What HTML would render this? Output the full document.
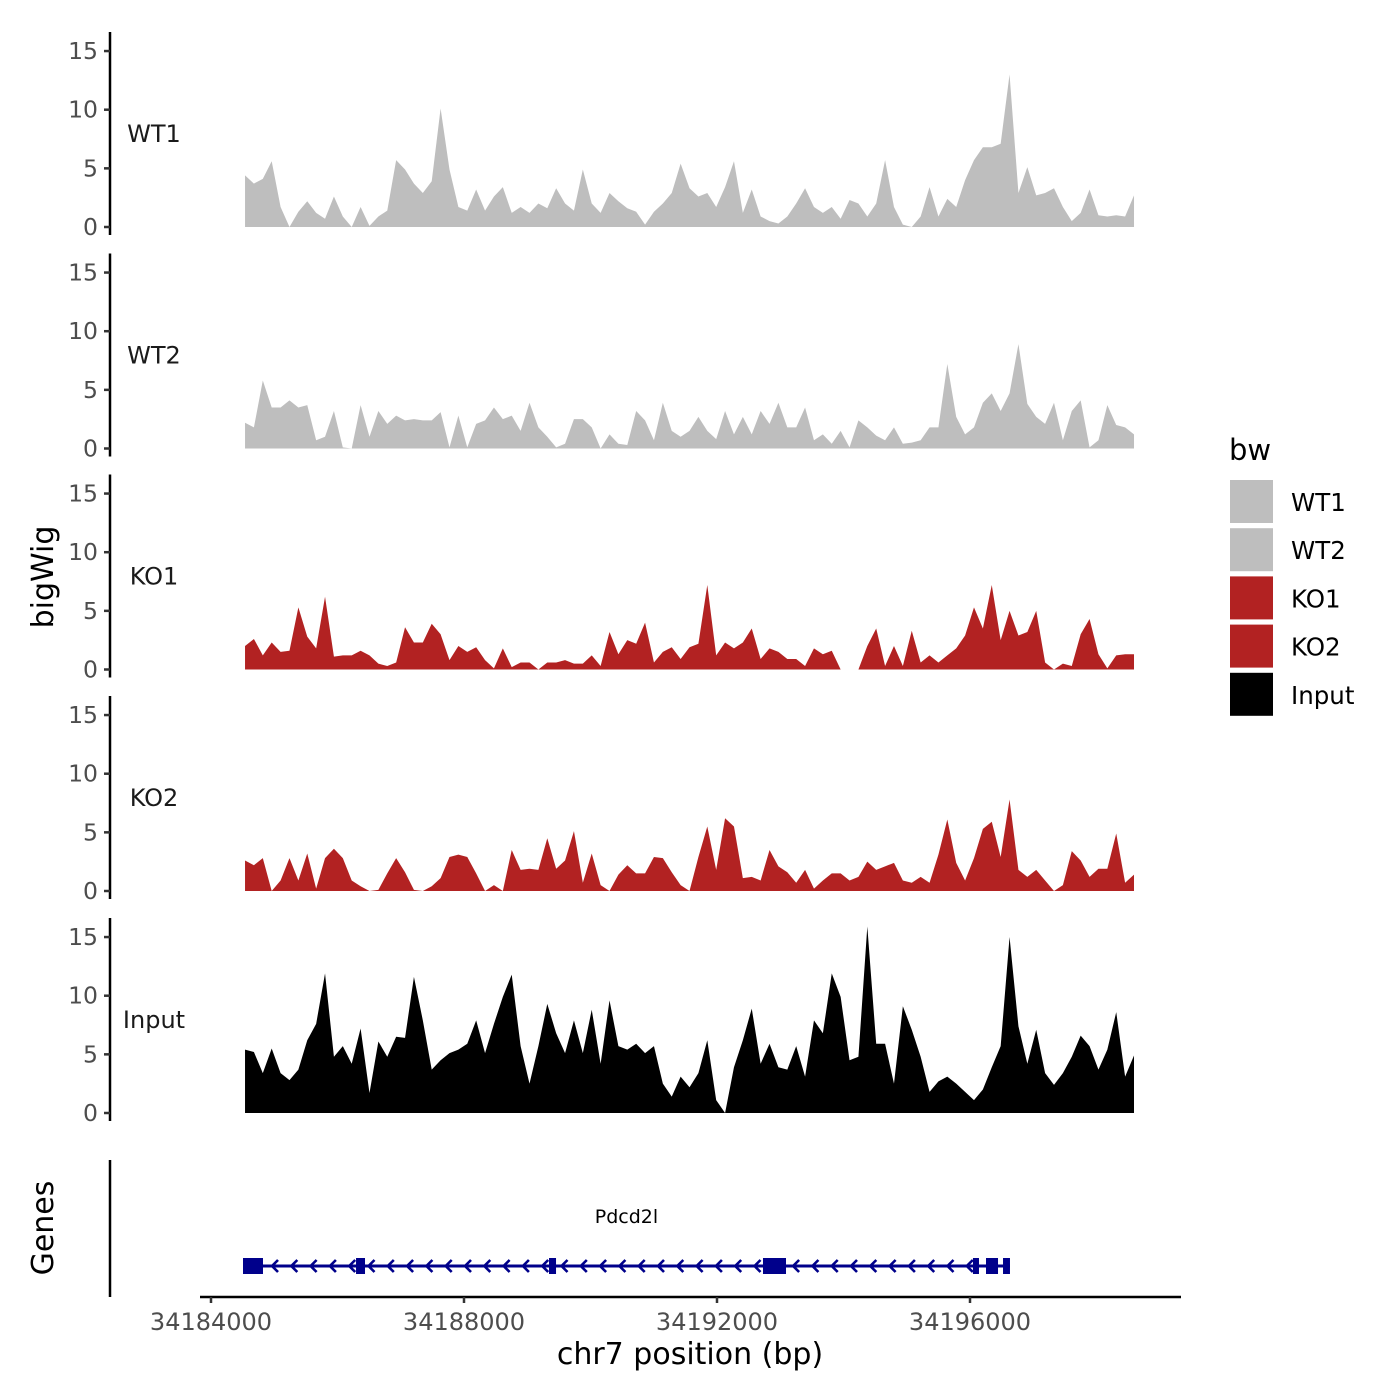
<!DOCTYPE html>
<html><head><meta charset="utf-8"><style>
body{margin:0;background:#fff}
svg{display:block;font-family:"DejaVu Sans","Liberation Sans",sans-serif}
</style></head><body>
<svg id="chart" width="1400" height="1400" viewBox="0 0 1400 1400">
<rect width="1400" height="1400" fill="#fff"/>
<g id="tracks"></g>
<g id="genes"></g>
<g id="xaxis"></g>
<text x="53" y="577" transform="rotate(-90 53 577)" text-anchor="middle" font-size="30" fill="#000">bigWig</text>
<text x="53" y="1228" transform="rotate(-90 53 1228)" text-anchor="middle" font-size="30" fill="#000">Genes</text>
<text x="690" y="1364" text-anchor="middle" font-size="30" fill="#000">chr7 position (bp)</text>
<g id="legend">
<text x="1229" y="460" font-size="29" fill="#000">bw</text>
</g>
</svg>
<script>
const trackNames = ["WT1","WT2","KO1","KO2","Input"];
const trackColors = ["#bebebe","#bebebe","#b22222","#b22222","#000000"];
const regionStart = 34184538;
const regionEnd = 34198593;
const wt1Values = [4.4,3.7,4.1,5.6,1.7,0,1.3,2.2,1.2,0.7,2.6,0.9,0,1.7,0.1,0.9,1.4,5.7,4.9,3.7,2.9,3.9,10.1,4.9,1.7,1.4,3.2,1.4,2.6,3.4,1.2,1.7,1.2,2.0,1.6,3.3,2.0,1.4,4.9,2.0,1.2,2.9,2.2,1.6,1.3,0.2,1.3,2.0,2.9,5.4,3.3,2.6,2.9,1.7,3.4,5.6,1.2,3.2,0.9,0.5,0.3,0.9,2.0,3.3,1.7,1.2,1.7,0.7,2.3,2.0,0.9,2.0,5.7,1.7,0.2,0,0.9,3.4,0.9,2.4,1.7,4.0,5.7,6.8,6.8,7.1,13.0,2.9,5.1,2.7,2.9,3.3,1.7,0.5,1.2,3.2,1.0,0.9,1.0,0.9,2.7];
const wt2Values = [2.2,1.8,5.8,3.5,3.5,4.1,3.5,3.7,0.7,1.0,3.2,0.1,0,3.7,1.0,3.2,2.1,2.8,2.4,2.5,2.4,2.4,3.1,0.1,2.8,0.1,2.1,2.4,3.5,2.5,2.8,1.5,3.9,1.8,1.0,0.1,0.4,2.5,2.5,1.8,0,1.2,0.4,0.3,3.2,2.4,0.7,3.9,1.5,1.0,1.5,2.7,1.5,0.8,3.2,1.2,2.7,1.2,3.2,2.1,3.9,1.8,1.8,3.5,0.7,1.2,0.4,1.5,0.1,2.4,1.8,1.1,0.7,1.8,0.4,0.5,0.7,1.8,1.8,7.2,2.7,1.2,1.8,3.9,4.7,3.2,4.7,8.9,3.8,2.7,2.1,3.9,0.7,3.2,4.1,0.1,0.7,3.7,2.0,1.8,1.2];
const ko1Values = [2.0,2.6,1.2,2.3,1.5,1.6,5.3,2.8,1.8,6.2,1.1,1.2,1.2,1.6,1.2,0.5,0.3,0.6,3.6,2.3,2.3,3.9,3.0,0.8,2.0,1.5,1.9,0.8,0.1,1.8,0.2,0.6,0.6,0,0.6,0.6,0.8,0.5,0.5,1.2,0.3,3.2,1.3,2.5,2.2,4.0,0.6,1.5,1.9,0.9,1.9,2.2,7.2,1.2,2.3,1.8,2.3,3.5,0.9,1.8,1.5,0.9,0.9,0.3,1.8,1.3,1.6,0,0,0,2.0,3.5,0.3,2.0,0.3,3.3,0.6,1.2,0.6,1.2,1.8,2.9,5.3,3.5,7.2,2.5,5.0,2.9,3.2,5.0,0.6,0,0.5,0.3,3.0,4.3,1.3,0.1,1.2,1.3,1.3];
const ko2Values = [2.6,2.2,2.8,0,0.9,2.8,0.9,3.2,0.2,2.8,3.6,2.8,0.9,0.4,0,0.1,1.5,2.8,1.6,0.1,0,0.4,1.1,2.9,3.1,2.9,1.5,0,0.5,0,3.5,1.8,1.9,1.8,4.5,1.9,2.6,5.1,0.7,3.2,0.5,0,1.4,2.2,1.5,1.5,2.9,2.8,1.6,0.5,0,2.9,5.5,1.8,6.2,5.5,1.1,1.2,0.9,3.5,2.1,1.6,0.7,1.8,0.2,0.9,1.5,1.5,0.9,1.2,2.5,1.8,2.1,2.4,0.9,0.7,1.2,0.7,3.1,6.1,2.4,0.9,2.8,5.3,5.9,2.9,7.8,1.8,1.2,1.8,0.9,0,0.5,3.4,2.6,1.2,1.9,1.9,4.9,0.7,1.4];
const inputValues = [5.4,5.2,3.4,5.5,3.4,2.8,3.7,6.2,7.6,11.9,4.8,5.7,4.2,7.2,1.7,6.1,4.8,6.5,6.4,11.6,7.9,3.7,4.5,5.1,5.4,5.9,7.9,5.1,7.6,9.9,11.8,5.7,2.5,5.7,9.3,6.8,5.1,7.9,5.1,8.8,4.2,9.6,5.7,5.4,5.9,5.1,5.7,2.5,1.4,3.1,2.2,3.4,6.2,1.1,0,3.9,6.2,8.9,4.2,5.9,3.9,3.7,5.7,3.1,7.9,6.8,11.9,9.9,4.5,4.8,15.9,5.9,5.9,2.5,9.1,7.1,4.8,1.8,2.7,3.1,2.5,1.8,1.1,2.0,3.9,5.7,15.0,7.4,4.2,7.1,3.4,2.4,3.4,4.8,6.6,5.7,3.7,5.4,8.6,3.1,4.9];
const yTicks = [0,5,10,15];
const xTicks = [34184000,34188000,34192000,34196000];
const xTickLabels = ["34184000","34188000","34192000","34196000"];
const geneName = "Pdcd2l";
const geneStart = 34184506;
const geneEnd = 34196632;
const exonStarts = [34184506,34186293,34189344,34192727,34196047,34196253,34196522];
const exonEnds = [34184822,34186435,34189455,34193091,34196142,34196443,34196632];

const NS="http://www.w3.org/2000/svg";
function mk(tag, attrs, parent){const e=document.createElementNS(NS,tag);for(const k in attrs)e.setAttribute(k,attrs[k]);if(parent)parent.appendChild(e);return e;}
const xScale = bp => 211 + (bp-34184000)*0.06325;
const panelZero = [227,448.5,669.5,891,1113];
const yScale = (v,p) => panelZero[p] - v*11.73;
const allValues=[wt1Values,wt2Values,ko1Values,ko2Values,inputValues];
const tracks=document.getElementById('tracks');
allValues.forEach((vals,p)=>{
  const g=mk('g',{},tracks);
  
  
  const z=panelZero[p];
  const ax=mk('line',{x1:110,x2:110,y1:z-195,y2:z+8,stroke:'#000','stroke-width':2.5},g);
  
  
  yTicks.forEach(t=>{
    const y=yScale(t,p);
    const tk=mk('line',{x1:104,x2:110,y1:y,y2:y,stroke:'#333','stroke-width':2.5},g);
    
    
    const tl=mk('text',{x:98,y:y+8,'text-anchor':'end','font-size':23.5,fill:'#4d4d4d'},g);
    tl.textContent=t;
    
    
  });
  const lb=mk('text',{x:154,y:z-85,'text-anchor':'middle','font-size':24,fill:'#1a1a1a'},g);
  lb.textContent=trackNames[p];
  
  
  const n=vals.length-1;
  const px=i=>xScale(regionStart+(regionEnd-regionStart)*i/n);
  let d='M'+px(0)+','+z;
  vals.forEach((v,i)=>{d+='L'+px(i)+','+yScale(v,p);});
  d+='L'+px(n)+','+z+'Z';
  const a=mk('path',{d:d,fill:trackColors[p]},g);
  
  
});
// genes
const gg=document.getElementById('genes');
const gl=mk('line',{x1:110,x2:110,y1:1160,y2:1297,stroke:'#000','stroke-width':2.5},gg);


const gy=1266, navy='#00008b';
const body=mk('line',{x1:xScale(geneStart),x2:xScale(geneEnd),y1:gy,y2:gy,stroke:navy,'stroke-width':3},gg);


for(let x=xScale(geneStart)+30;x<xScale(geneEnd)-8;x+=19.3){
  const c=mk('path',{d:`M${x+5},${gy-6}L${x-1},${gy}L${x+5},${gy+6}`,fill:'none',stroke:navy,'stroke-width':2.6},gg);
  
  
}
exonStarts.forEach((s,i)=>{
  const x1=xScale(s),x2=xScale(exonEnds[i]);
  const r=mk('rect',{x:x1,y:gy-8,width:x2-x1,height:16,fill:navy},gg);
  
  
});
const gn=mk('text',{x:(xScale(geneStart)+xScale(geneEnd))/2,y:1223,'text-anchor':'middle','font-size':19,fill:'#000'},gg);
gn.textContent=geneName;


// x axis
const xg=document.getElementById('xaxis');
const xl=mk('line',{x1:200,x2:1181,y1:1297,y2:1297,stroke:'#000','stroke-width':2.5},xg);


xTicks.forEach((t,i)=>{
  const x=xScale(t);
  const tk=mk('line',{x1:x,x2:x,y1:1297,y2:1303,stroke:'#333','stroke-width':2.5},xg);
  
  
  const tl=mk('text',{x:x,y:1330,'text-anchor':'middle','font-size':24,fill:'#4d4d4d'},xg);
  tl.textContent=xTickLabels[i];
  
  
});
// legend
const lg=document.getElementById('legend');
trackNames.forEach((nm,i)=>{
  const y=480+i*48.2;
  const r=mk('rect',{x:1230,y:y,width:43,height:43,fill:trackColors[i]},lg);
  
  
  const t=mk('text',{x:1291,y:y+31,'font-size':24.5,fill:'#000'},lg);
  t.textContent=nm;
  
  
});
</script>
</body></html>
